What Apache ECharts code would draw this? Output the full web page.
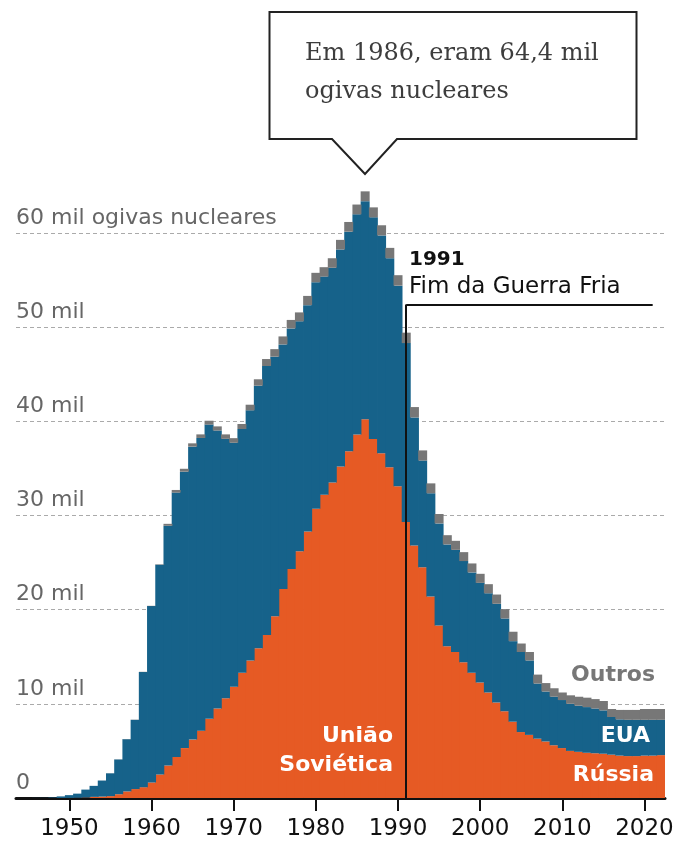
<!DOCTYPE html>
<html>
<head>
<meta charset="utf-8">
<script src="https://cdn.jsdelivr.net/npm/echarts@6/dist/echarts.min.js"></script>
<style>
  html, body { margin: 0; padding: 0; background: #fff; }
  #ogivas { width: 678px; height: 845px; }
</style>
</head>
<body>
<div id="ogivas"></div>
<script>
// anos 1944-2022
var anos = [];
for (var a = 1944; a <= 2022; a++) { anos.push(String(a)); }

// União Soviética / Rússia
var urss = [
  0, 0, 0, 0, 0, 1, 5, 25, 50, 120,
  150, 200, 400, 700, 950, 1150, 1650, 2500, 3450, 4350,
  5300, 6200, 7150, 8400, 9500, 10600, 11800, 13300, 14600, 15900,
  17300, 19300, 22200, 24300, 26200, 28300, 30700, 32200, 33500, 35200,
  36800, 38600, 40200, 38100, 36600, 35100, 33100, 29300, 26800, 24500,
  21400, 18300, 16100, 15500, 14400, 13300, 12250, 11200, 10150, 9200,
  8100, 7000, 6700, 6300, 6000, 5600, 5300, 5000, 4900, 4800,
  4750, 4700, 4600, 4500, 4450, 4450, 4500, 4500, 4550
];

// EUA
var eua = [
  0, 2, 9, 13, 50, 170, 299, 438, 841, 1169,
  1703, 2422, 3692, 5543, 7345, 12220, 18720, 22250, 25450, 28070,
  29340, 31100, 31070, 31240, 29510, 27530, 25910, 25870, 26550, 27870,
  28560, 27550, 25950, 25550, 24400, 24020, 24050, 23150, 22790, 23030,
  23320, 23360, 23150, 23540, 23120, 22200, 21290, 18990, 13600, 11320,
  10950, 10850, 10820, 10840, 10750, 10650, 10590, 10530, 10470, 9860,
  8550, 8500, 7900, 5850, 5300, 5150, 5100, 5000, 4900, 4850,
  4750, 4600, 4000, 3850, 3850, 3850, 3800, 3800, 3750
];

// Outros países
var outros = [
  0, 0, 0, 0, 0, 0, 0, 0, 0, 1,
  5, 10, 15, 20, 22, 25, 30, 50, 205, 280,
  310, 350, 380, 410, 440, 470, 490, 530, 600, 680,
  740, 800, 850, 900, 950, 980, 1000, 1000, 1010, 1020,
  1030, 1040, 1050, 1060, 1080, 1100, 1110, 1110, 1100, 1080,
  1050, 1000, 980, 960, 950, 950, 960, 970, 980, 990,
  1000, 900, 900, 950, 900, 900, 800, 900, 950, 1000,
  1000, 1000, 850, 1000, 1050, 1050, 1150, 1150, 1150
];

var yTicks = [0, 10000, 20000, 30000, 40000, 50000, 60000];

var sans = '"DejaVu Sans", sans-serif';

var ehDecada = function (i, v) { return Number(v) % 10 === 0; };

// rótulo de texto avulso (anotações)
var rotulo = function (txt, pos, font, cor) {
  var g = { type: 'text', z: 100, style: { text: txt, font: font, fill: cor, lineHeight: 26.4 } };
  for (var k in pos) { g[k] = pos[k]; }
  return g;
};

var myChart = echarts.init(document.getElementById('ogivas'));

var option = {
  backgroundColor: '#fff',
  animation: false,
  grid: { left: 16, right: 13, top: 185.7, bottom: 47 },
  xAxis: {
    type: 'category',
    data: anos,
    boundaryGap: true,
    axisLine: { lineStyle: { color: '#111', width: 3 } },
    axisTick: {
      show: true, alignWithLabel: true, interval: ehDecada,
      length: 13, lineStyle: { color: '#111', width: 2 }
    },
    axisLabel: {
      interval: ehDecada, margin: 20,
      color: '#111', fontSize: 23, fontFamily: sans
    },
    splitLine: { show: false }
  },
  yAxis: {
    type: 'value',
    min: 0, max: 65000, interval: 10000,
    axisLine: { show: false },
    axisTick: { show: false },
    splitLine: {
      show: true, showMinLine: false, showMaxLine: false,
      lineStyle: { color: '#aaa', width: 1, type: [4, 3] }
    },
    axisLabel: {
      inside: true, margin: 0, showMaxLabel: false,
      verticalAlign: 'bottom', padding: [0, 0, 4, 0],
      color: '#666', fontSize: 22, fontFamily: sans,
      formatter: function (v) {
        if (yTicks.indexOf(v) < 0) return '';
        if (v === 0) return '0';
        if (v === 60000) return '60 mil ogivas nucleares';
        return (v / 1000) + ' mil';
      }
    }
  },
  series: [
    {
      name: 'União Soviética / Rússia', type: 'bar', stack: 'total',
      data: urss, barWidth: 9,
      itemStyle: { color: '#e65a24' },
      silent: true
    },
    {
      name: 'EUA', type: 'bar', stack: 'total',
      data: eua, barWidth: 9,
      itemStyle: { color: '#16628a' },
      silent: true
    },
    {
      name: 'Outros', type: 'bar', stack: 'total',
      data: outros, barWidth: 9,
      itemStyle: { color: '#777' },
      silent: true,
      markLine: {
        silent: true, symbol: 'none', animation: false,
        label: { show: false },
        lineStyle: { color: '#111', width: 2, type: 'solid' },
        data: [
          [{ coord: ['1991', 0] }, { coord: ['1991', 52400] }],
          [{ coord: ['1991', 52400] }, { coord: ['2021', 52400] }]
        ]
      }
    }
  ],
  graphic: [
    {
      type: 'polygon', z: 100,
      shape: { points: [[269.5, 12], [636.5, 12], [636.5, 139], [397, 139], [365, 174], [332, 139], [269.5, 139]] },
      style: { fill: '#fff', stroke: '#222', lineWidth: 2 }
    },
    {
      type: 'text', left: 305, top: 35, z: 100,
      style: {
        text: 'Em 1986, eram 64,4 mil\nogivas nucleares',
        font: '24px "DejaVu Serif", serif', fill: '#3d3d3d', lineHeight: 38
      }
    },
    rotulo('1991', { left: 409, top: 247 }, 'bold 20px ' + sans, '#111'),
    rotulo('Fim da Guerra Fria', { left: 409, top: 274 }, '23px ' + sans, '#111'),
    rotulo('União', { right: 285, top: 723 }, 'bold 22px ' + sans, '#fff'),
    rotulo('Soviética', { right: 285, top: 752 }, 'bold 22px ' + sans, '#fff'),
    rotulo('EUA', { right: 28, top: 723 }, 'bold 22px ' + sans, '#fff'),
    rotulo('Rússia', { right: 24, top: 762 }, 'bold 22px ' + sans, '#fff'),
    rotulo('Outros', { right: 23, top: 662 }, 'bold 22px ' + sans, '#777')
  ]
};

myChart.setOption(option);
window.onresize = myChart.resize;
</script>
</body>
</html>
